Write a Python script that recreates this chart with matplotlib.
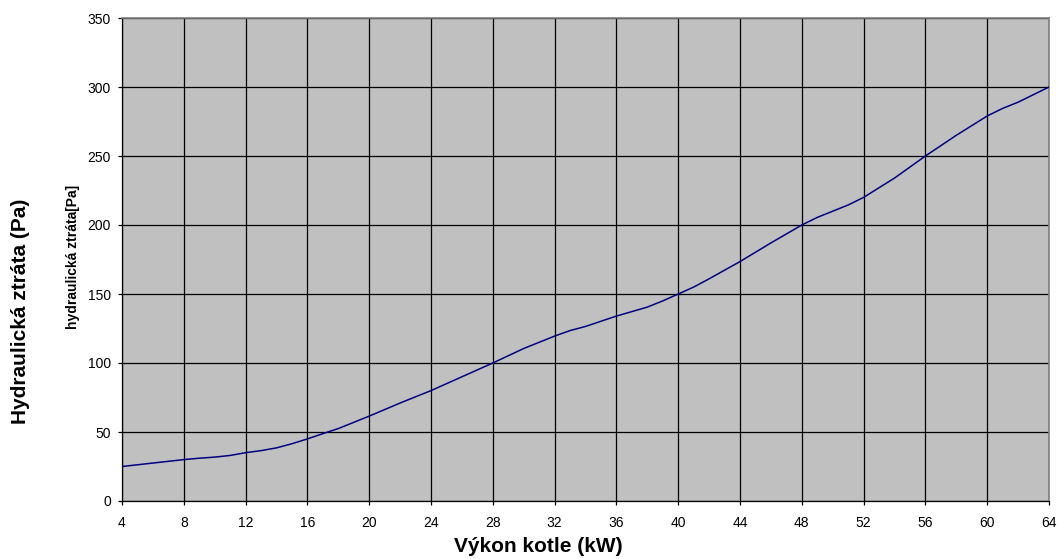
import matplotlib
matplotlib.use("Agg")
import matplotlib.pyplot as plt

plt.rcParams['font.family'] = ['Liberation Sans', 'DejaVu Sans']

power_kw = [4, 6, 8, 9, 10, 11, 12, 13, 14, 15, 16, 17, 18, 20, 22, 24, 26, 28, 30,
            32, 33, 34, 36, 38, 39, 40, 41, 42, 44, 46, 48, 49, 50, 51, 52, 54, 56,
            58, 60, 61, 62, 64]
loss_pa = [25, 27.5, 30, 31, 31.8, 33, 35, 36.5, 38.5, 41.5, 45, 48.8, 52.5, 61.5,
           71, 80, 90, 100, 110.5, 119.5, 123.5, 126.5, 134, 140.5, 145, 150, 155,
           161, 173.5, 187, 200, 205.5, 210, 214.5, 220, 234, 250, 265, 279, 284.5,
           289, 300]
x_ticks = list(range(4, 65, 4))
y_ticks = list(range(0, 351, 50))

fig = plt.figure(figsize=(10.58, 5.59), dpi=100)
ax = fig.add_axes([122/1058, 1-501/559, 927/1058, 483/559])
ax.set_facecolor('#C0C0C0')
ax.plot(power_kw, loss_pa, color='#000080', lw=1.1, zorder=3)
ax.set_xlim(4, 64)
ax.set_ylim(0, 350)
ax.set_xticks(x_ticks)
ax.set_yticks(y_ticks)
ax.grid(True, color='black', lw=0.9)
ax.set_axisbelow(True)
ax.tick_params(direction='out', length=3, width=0.9, labelsize=10, colors='black')
ax.tick_params(axis='x', pad=8)
ax.tick_params(axis='y', pad=5)
for s in ['top', 'right']:
    ax.spines[s].set_color('#808080')
    ax.spines[s].set_linewidth(1.2)
for s in ['left', 'bottom']:
    ax.spines[s].set_color('black')
    ax.spines[s].set_linewidth(0.9)

fig.text(72.5/1058, 1-257/559, 'hydraulická ztráta[Pa]', rotation=90, ha='center',
         va='center', fontsize=10, fontweight='bold')
fig.text(21/1058, 1-311/559, 'Hydraulická ztráta (Pa)', rotation=90, ha='center',
         va='center', fontsize=15, fontweight='bold')
fig.text(538/1058, 1-546/559, 'Výkon kotle (kW)', ha='center', va='center',
         fontsize=15, fontweight='bold')

fig.savefig('out.png', dpi=100)
